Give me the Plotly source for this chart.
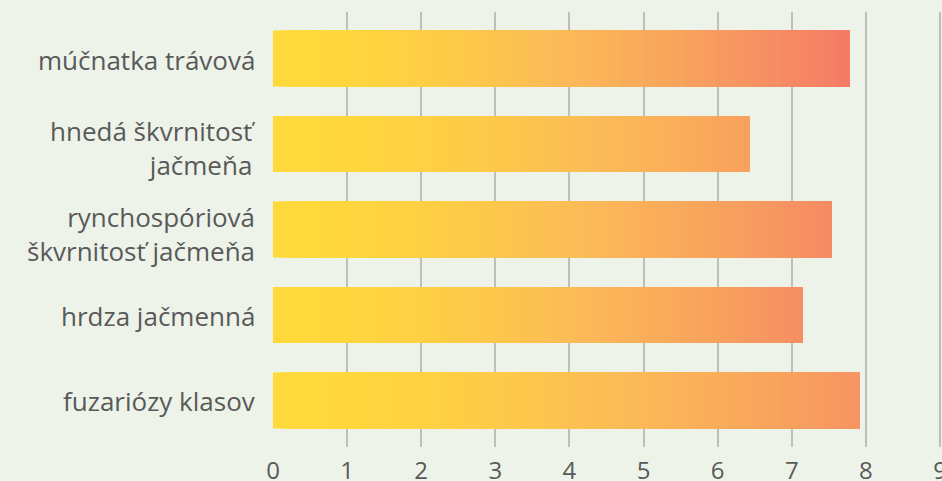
import numpy as np
import plotly.graph_objects as go

# ---- data ----
categories = ["fuzariózy klasov", "hrdza jačmenná", "rynchospóriová škvrnitosť jačmeňa",
              "hnedá škvrnitosť jačmeňa", "múčnatka trávová"]
label_text = ["fuzariózy klasov", "hrdza jačmenná",
              "rynchospóriová<br>škvrnitosť jačmeňa",
              "hnedá škvrnitosť<br>jačmeňa", "múčnatka trávová"]
values = [7.92, 7.15, 7.54, 6.43, 7.78]
x_ticks = [0, 1, 2, 3, 4, 5, 6, 7, 8, 9]

# ---- style: gradient intensity per bar ----
grad_strength = [2.52, 3.22, 3.11, 2.86, 3.57]
pal_g = [122, 138, 141, 148, 160, 174, 187, 201, 217]
pal_r = [244, 246, 246, 247, 248, 251, 251, 253, 255]
pal_b = [104, 99, 100, 98, 94, 90, 87, 74, 58]


def grad_color(x, k):
    g = 217 - k * x ** 1.6
    g = max(min(g, 217), 110)
    r = np.interp(g, pal_g, pal_r)
    b = np.interp(g, pal_g, pal_b)
    return f"rgb({int(round(r))},{int(round(g))},{int(round(b))})"


N = 90
seg_y, seg_x, seg_base, seg_col = [], [], [], []
for cat, v, k in zip(categories, values, grad_strength):
    for i in range(N):
        x0 = v * i / N
        seg_y.append(cat)
        seg_base.append(x0)
        seg_x.append(v - x0)
        seg_col.append(grad_color(x0 + v / (2 * N), k))

fig = go.Figure(go.Bar(
    y=seg_y, x=seg_x, base=seg_base, orientation="h",
    marker=dict(color=seg_col, line=dict(width=0)),
    width=0.655, hoverinfo="skip", showlegend=False,
))

FONT = "Open Sans"
TXT = "#595959"
annotations = []
for cat, txt in zip(categories, label_text):
    annotations.append(dict(
        xref="paper", yref="y", x=0, y=cat, text=txt, showarrow=False,
        xanchor="right", yanchor="middle", align="right", xshift=-16,
        yshift=-4 if "<br>" in txt else -1,
        font=dict(family=FONT, size=26, color=TXT),
    ))

fig.update_layout(
    width=942, height=481,
    template="none",
    barmode="overlay",
    paper_bgcolor="#EEF3E9",
    plot_bgcolor="#EEF3E9",
    margin=dict(l=273, r=0, t=12, b=34),
    font=dict(family=FONT, color=TXT),
    annotations=annotations,
    xaxis=dict(range=[0, 9.027], tickvals=x_ticks, showgrid=True, gridcolor="#BEBEBE",
               gridwidth=1.5, zeroline=False, showline=False, ticks="",
               tickfont=dict(size=24, color=TXT), automargin=False,
               ticklabelstandoff=7, ticklabeloverflow="allow"),
    yaxis=dict(categoryorder="array", categoryarray=categories,
               range=[-0.544, 4.544], showgrid=False, zeroline=False, showline=False,
               ticks="", showticklabels=False, automargin=False),
)

fig.write_html("out.html", config={"displayModeBar": False},
               post_script="document.body.style.margin='0';")
